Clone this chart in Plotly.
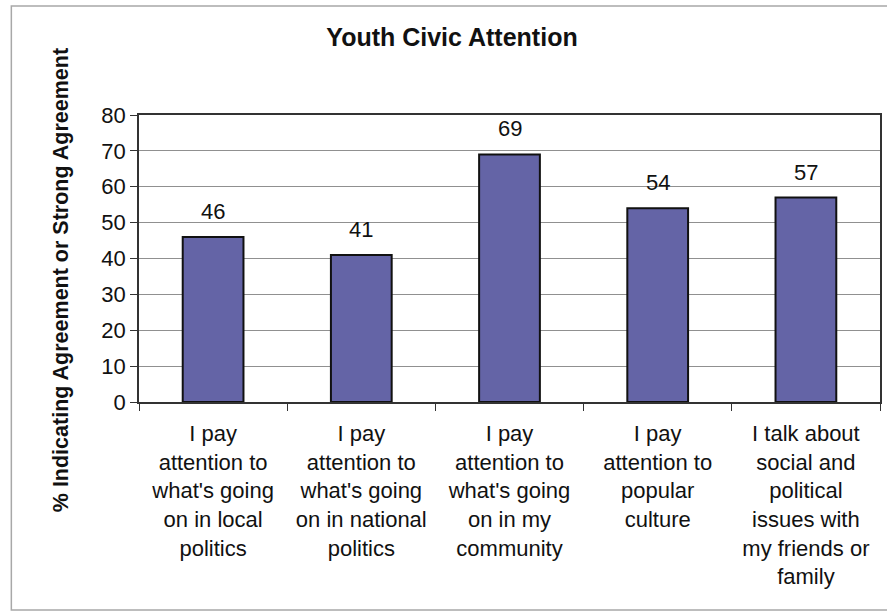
import plotly.graph_objects as go

categories = [
    "I pay<br>attention to<br>what's going<br>on in local<br>politics",
    "I pay<br>attention to<br>what's going<br>on in national<br>politics",
    "I pay<br>attention to<br>what's going<br>on in my<br>community",
    "I pay<br>attention to<br>popular<br>culture",
    "I talk about<br>social and<br>political<br>issues with<br>my friends or<br>family",
]
values = [46, 41, 69, 54, 57]
y_ticks = [0, 10, 20, 30, 40, 50, 60, 70, 80]

W, H = 887, 612
L, R, T, B = 139, 5, 115, 210
pw, ph = W - L - R, H - T - B

def px_x(p):
    return (p - L) / pw

def px_y(p):
    return (H - B - p) / ph

FONT = "Liberation Sans, Arial, sans-serif"

fig = go.Figure()
fig.add_trace(go.Bar(
    x=categories, y=values,
    marker=dict(color="#6464a6", line=dict(color="#111111", width=2)),
    width=0.41,
    hoverinfo="skip",
))

for c, v in zip(categories, values):
    fig.add_annotation(x=c, y=v, text=str(v), showarrow=False,
                       xref="x", yref="y", yanchor="bottom", yshift=11,
                       font=dict(size=22, color="#111111", family=FONT))

fig.add_annotation(x=px_x(61), y=px_y(280), xref="paper", yref="paper",
                   text="<b>% Indicating Agreement or Strong Agreement</b>",
                   textangle=-90, showarrow=False, xanchor="center", yanchor="middle",
                   font=dict(size=21.5, color="#111111", family=FONT))

fig.add_shape(type="rect", xref="paper", yref="paper",
              x0=px_x(11), x1=px_x(890), y0=px_y(610), y1=px_y(6),
              line=dict(color="#a8a8a8", width=1.5), layer="below")

fig.update_layout(
    width=W, height=H,
    margin=dict(l=L, r=R, t=T, b=B),
    paper_bgcolor="white", plot_bgcolor="white",
    showlegend=False,
    title=dict(text="<b>Youth Civic Attention</b>", x=452 / W, xanchor="center",
               xref="container",
               y=1 - 37 / H, yanchor="middle", yref="container",
               font=dict(size=25, color="#111111", family=FONT)),
    font=dict(family=FONT, color="#111111"),
)
fig.update_xaxes(
    type="category", showline=True, linecolor="#333333", linewidth=1.5, mirror=True,
    ticks="outside", tickson="boundaries", ticklen=7, tickcolor="#333333",
    tickfont=dict(size=22, family=FONT, color="#111111"),
    ticklabelstandoff=11, showgrid=False, tickangle=0,
)
fig.update_yaxes(
    range=[0, 80], tickvals=y_ticks, ticks="outside", ticklen=7, tickcolor="#333333",
    showline=True, linecolor="#333333", linewidth=1.5, mirror=True,
    showgrid=True, gridcolor="#909090", gridwidth=1, zeroline=False,
    tickfont=dict(size=22, family=FONT, color="#111111"),
)

fig.write_html("out.html")
